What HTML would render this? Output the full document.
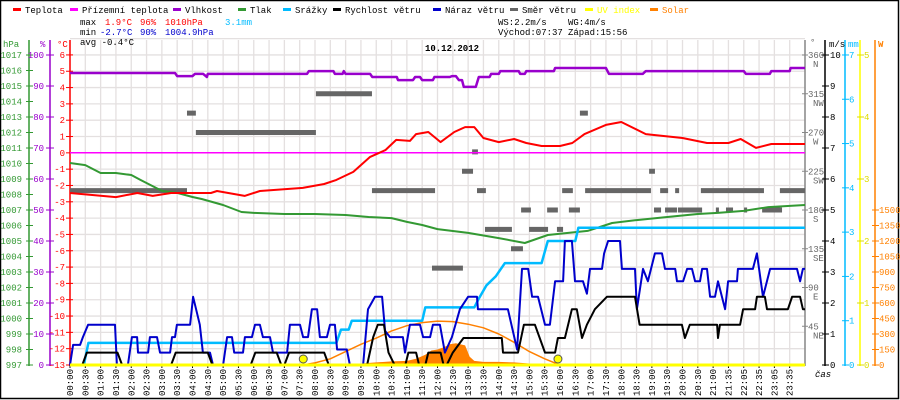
<!DOCTYPE html>
<html><head><meta charset="utf-8"><style>
html,body{margin:0;padding:0;background:#fff;}
#wrap{position:relative;width:900px;height:400px;overflow:hidden;}
svg{position:absolute;left:0;top:0;}
text{font-family:"Liberation Mono","DejaVu Sans Mono",monospace;font-size:9px;}
</style></head><body>
<div id="wrap">
<svg id="chart" width="900" height="400" viewBox="0 0 900 400"></svg>
</div>
<script>
// ---- data ----
const timeLabels=["00:00","00:30","01:00","01:30","02:00","02:30","03:00","03:30","04:00","04:30","05:00","05:30","06:00","06:30","07:00","07:30","08:00","08:30","09:00","09:30","10:00","10:30","11:00","11:30","12:00","12:30","13:00","13:30","14:00","14:30","15:00","15:30","16:00","16:30","17:00","17:30","18:00","18:30","19:00","19:30","20:00","20:30","21:00","21:35","22:05","22:35","23:05","23:35"];
const tempT=[0,1.5,2.2,2.7,3.3,4.6,4.8,5.7,6.2,7.6,8.3,8.7,9.25,9.8,10.3,10.65,11.1,11.3,11.7,12.1,12.55,12.9,13.2,13.5,14.0,14.5,14.9,15.4,16.0,16.4,16.8,17.5,18.0,18.8,20.0,20.8,21.5,21.9,22.4,22.9,24];
const tempV=[-2.46,-2.71,-2.46,-2.64,-2.46,-2.46,-2.34,-2.64,-2.34,-2.15,-1.91,-1.66,-1.17,-0.25,0.17,0.79,0.73,1.15,1.28,0.66,1.28,1.58,1.58,0.91,0.66,0.85,0.60,0.42,0.42,0.60,1.15,1.71,1.89,1.15,0.91,0.60,0.60,0.85,0.30,0.54,0.54];
const apparentT=[0,24];
const apparentV=[0,0];
const humT=[0,3.43,3.5,4.0,4.08,4.35,4.47,4.5,7.74,7.8,8.6,8.65,8.9,8.94,9.0,9.8,9.87,10.67,10.71,11.2,11.27,11.43,11.5,11.85,11.9,12.4,12.47,12.6,12.7,12.8,12.86,13.25,13.35,13.7,13.75,14.0,14.05,14.65,14.7,14.85,14.9,15.8,15.84,17.5,17.6,18.7,18.8,22.0,22.07,22.85,22.9,23.5,23.53,24];
const humV=[94.2,94.2,93.2,93.2,93.9,93.9,92.9,93.9,93.9,94.8,94.8,93.9,93.9,94.8,93.9,93.9,92.9,92.9,91.9,91.9,92.9,92.9,91.9,91.9,92.9,92.9,93.2,93.2,91.9,91.9,89.7,89.7,92.9,92.9,93.9,93.9,94.8,94.8,93.9,93.9,94.8,94.8,95.8,95.8,93.9,93.9,94.8,94.8,93.9,93.9,94.8,94.8,95.8,95.8];
const presT=[0,0.5,1,1.5,2,2.3,3,3.5,4,4.3,5,5.6,6,7,8,9,9.75,10.5,11,11.5,12,13,14,14.85,15.6,16.9,17.7,18.5,19.5,20.5,21.15,22,22.8,24];
const presV=[1010.03,1009.9,1009.39,1009.39,1009.26,1008.94,1008.23,1008.10,1007.84,1007.71,1007.32,1006.87,1006.81,1006.74,1006.74,1006.68,1006.55,1006.48,1006.23,1006.03,1005.77,1005.52,1005.19,1004.87,1005.39,1005.65,1006.16,1006.35,1006.55,1006.74,1006.81,1006.94,1007.19,1007.32];
const rainT=[0,0.45,0.6,8.7,8.85,9.1,9.2,11.5,11.6,13.2,13.35,13.6,13.9,14.2,15.4,15.6,16.5,16.6,24];
const rainV=[0,0,0.5,0.5,0.8,0.8,1.0,1.0,1.3,1.3,1.5,1.8,2.0,2.3,2.3,2.8,2.8,3.1,3.1];
const speedT=[0,0.4,0.55,1.55,1.7,3.3,3.45,4.5,4.65,5.9,6.05,6.75,6.9,7.0,7.15,8.3,8.45,9.7,9.9,10.05,10.25,10.4,10.6,10.95,11.05,11.3,11.4,11.6,11.7,12.1,12.2,12.3,12.5,12.85,14.1,14.14,14.63,14.82,15.18,15.51,15.84,15.93,16.16,16.39,16.55,16.72,16.88,17.14,17.53,18.45,18.6,19.98,20.08,20.24,21.13,21.16,21.22,21.88,21.98,22.37,22.43,22.69,22.76,23.44,23.58,23.84,23.93,24];
const speedV=[0,0,0.4,0.4,0,0,0.4,0.4,0,0,0.4,0.4,0,0,0.4,0.4,0,0,0.9,1.3,1.3,0.4,0,0,0.4,0.4,0,0,0.4,0.4,0,0,0.4,0.87,0.87,0.4,0.4,1.3,1.3,0.4,0.4,0.87,0.87,1.8,1.8,0.87,1.3,1.8,2.2,2.2,1.3,1.3,0.87,1.3,1.3,0.87,1.3,1.3,1.8,1.8,2.2,2.2,1.8,1.8,2.2,2.2,1.8,1.8];
const gustT=[0,0.1,0.33,0.42,0.59,1.47,1.53,1.89,2.02,2.19,2.22,2.55,2.61,2.84,2.94,3.27,3.33,3.43,3.49,3.92,4.02,4.24,4.34,4.57,4.67,5.0,5.13,5.29,5.36,5.65,5.71,5.94,6.04,6.2,6.3,6.53,6.63,7.09,7.18,7.51,7.61,7.77,7.9,8.07,8.16,8.39,8.49,8.65,8.72,9.04,9.14,9.57,9.73,9.96,10.19,10.29,10.45,10.87,10.94,11.1,11.43,11.53,11.76,11.85,12.08,12.24,12.47,12.73,13.0,13.29,13.32,14.3,14.6,14.76,14.96,15.09,15.28,15.51,15.67,15.84,16.1,16.16,16.39,16.49,16.75,16.88,16.98,17.37,17.44,17.57,17.96,18.02,18.45,18.51,18.71,18.87,19.1,19.33,19.43,19.76,19.82,20.02,20.15,20.31,20.41,20.57,20.64,20.8,20.9,21.06,21.16,21.39,21.49,21.78,21.81,22.3,22.43,22.63,22.86,23.74,23.84,23.93,24];
const gustV=[0,0.65,0.65,0.9,1.3,1.3,0,0,0.9,0.9,0.4,0.4,0.9,0.9,0.4,0.4,0.9,0.9,1.3,1.3,2.2,1.3,0.4,0.4,0,0,0.9,0.9,0.4,0.4,0.9,0.9,1.3,1.3,0.9,0.9,0.4,0.4,1.3,1.3,0.9,0.9,1.8,1.8,0.9,0.9,1.3,1.3,0.5,0.5,0,0,1.8,2.2,2.2,1.1,0.9,0.9,0.4,1.3,1.3,0.9,0.9,1.3,1.3,0.4,0.9,1.8,2.2,2.2,1.8,1.8,0.5,3.1,3.1,2.2,2.2,1.3,1.3,2.7,2.7,4.0,4.0,2.7,2.7,2.3,3.1,3.1,3.6,4.0,4.0,3.1,3.1,1.8,3.1,2.7,3.6,3.6,3.1,3.1,2.7,2.7,3.1,3.1,2.7,2.7,3.1,3.1,2.2,2.2,2.7,1.8,2.7,2.7,3.1,3.1,3.6,2.2,3.1,3.1,2.7,3.1,3.1];
const dirStart=[0,3.82,4.11,8.03,9.86,11.82,12.8,13.13,13.29,13.55,14.4,14.73,14.99,15.58,15.9,16.07,16.29,16.65,16.82,18.91,19.07,19.27,19.43,19.76,19.85,20.6,21.09,21.42,22.01,22.6,23.18];
const dirEnd=[3.82,4.11,8.03,9.86,11.92,12.83,13.16,13.32,13.58,14.43,14.79,15.05,15.61,15.93,16.1,16.42,16.65,16.91,18.97,19.1,19.3,19.53,19.82,19.89,20.64,22.66,21.19,21.65,22.11,23.25,24];
const dirV=[202.5,292.5,270,315,202.5,112.5,225,247.5,202.5,157.5,135,180,157.5,180,157.5,202.5,180,292.5,202.5,225,180,202.5,180,202.5,180,202.5,180,180,180,180,202.5];
const uvT=[0,24];
const uvV=[0,0];
const solarModelT=[7.6,8,8.5,9,9.5,10,10.5,11,11.5,12,12.5,13,13.5,14,14.5,15,15.5,16];
const solarModelV=[0,20,60,130,200,260,330,380,410,425,420,395,360,300,220,130,60,0];
const solarT=[8,8.7,9.5,10,10.5,11,11.3,11.6,11.8,12,12.2,12.4,12.6,12.9,13.05,13.2,13.5,14,14.5,15,15.3,15.6];
const solarV=[0,5,15,25,35,40,60,100,140,150,170,200,210,190,80,40,30,30,25,15,5,0];
const sunEvents=[7.617,15.933];
const hpaTicks=[1017,1016,1015,1014,1013,1012,1011,1010,1009,1008,1007,1006,1005,1004,1003,1002,1001,1000,999,998,997];
const humTicks=[100,90,80,70,60,50,40,30,20,10,0];
const tempTicks=[6,5,4,3,2,1,0,-1,-2,-3,-4,-5,-6,-7,-8,-9,-10,-11,-12,-13];
const dirTicks=[360,315,270,225,180,135,90,45];
const dirNames=["N","NW","W","SW","S","SE","E","NE"];
const msTicks=[10,9,8,7,6,5,4,3,2,1,0];
const mmTicks=[7,6,5,4,3,2,1,0];
const uvTicks=[5,4,3,2,1,0];
const wTicks=[1500,1350,1200,1050,900,750,600,450,300,150,0];

// ---- scales ----
const NS="http://www.w3.org/2000/svg";
const svg=document.getElementById('chart');
const xOf=t=>70+t*30.625;
const yT=v=>365-(v+13)*16.32;
const yP=v=>365-(v-997)*15.5;
const yH=v=>365-v*3.1;
const yD=v=>365-v*0.8611;
const yV=v=>365-v*31;
const yR=v=>365-v*44.29;
const yU=v=>365-v*62;
const yS=v=>365-v*0.10333;

function mk(tag,attrs,parent){const e=document.createElementNS(NS,tag);for(const k in attrs)e.setAttribute(k,attrs[k]);(parent||svg).appendChild(e);return e;}
function txt(x,y,s,fill,anchor,extra){const e=mk('text',Object.assign({x:x,y:y,fill:fill,'text-anchor':anchor||'start'},extra||{}));e.textContent=s;return e;}

// border
let el=mk('rect',{x:0.5,y:0.5,width:898,height:398,fill:'none',stroke:'#000','stroke-width':1.5});



// grid
const grid=mk('g',{});


for(let k=0;k<=48;k++){const x=xOf(k*0.5);mk('line',{x1:x,x2:x,y1:40,y2:365,stroke:'#e4e0e0','stroke-width':1.3},grid);}
for(let v=7;v>=-13;v--){const y=yT(v);mk('line',{x1:70,x2:805,y1:y,y2:y,stroke:'#e4e0e0','stroke-width':1.3},grid);}

// legend
const legendItems=[["Teplota","#ff0000",13],["Přízemní teplota","#ff00ff",70],["Vlhkost","#9900cc",173],["Tlak","#339933",238],["Srážky","#00bbff",283],["Rychlost větru","#000000",333],["Náraz větru","#0000cc",433],["Směr větru","#666666",510],["UV index","#ffff00",585],["Solar","#ff8000",650]];
legendItems.forEach((it,i)=>{
  const g=mk('g',{});
  
  
  mk('rect',{x:it[2],y:8,width:8,height:3,fill:it[1]},g);
  const t=txt(it[2]+12,13,it[0],(i>=8?it[1]:'#000'),'start');
  g.appendChild(t);
});

// stats
const stats=[[80,25,"max","#000"],[105,25,"1.9°C","#ff0000"],[140,25,"96%","#ff0000"],[165,25,"1010hPa","#ff0000"],[225,25,"3.1mm","#00bbff"],
[80,35,"min","#000"],[100,35,"-2.7°C","#0000cc"],[140,35,"90%","#0000cc"],[165,35,"1004.9hPa","#0000cc"],
[80,45,"avg -0.4°C","#000"],[498,25,"WS:2.2m/s","#000"],[568,25,"WG:4m/s","#000"],[498,35,"Východ:07:37","#000"],[568,35,"Západ:15:56","#000"]];
stats.forEach((s,i)=>{const t=txt(s[0],s[1],s[2],s[3]);
  
  });
el=txt(452,51,"10.12.2012","#000","middle",{'font-size':'13','font-weight':'bold'});



// left axes
function axisLine(x,color,name){const l=mk('line',{x1:x,x2:x,y1:40,y2:366,stroke:color,'stroke-width':1.5});
  
  }
axisLine(29,'#339933','pressure-axis');
axisLine(50,'#9900cc','humidity-axis');
axisLine(70,'#ff0000','temperature-axis');
el=txt(3,47,"hPa","#339933");
el=txt(40,47,"%","#9900cc");
el=txt(57,47,"°C","#ff0000");
hpaTicks.forEach(v=>{const y=yP(v);mk('line',{x1:26,x2:33,y1:y,y2:y,stroke:'#339933'});txt(22,y+3,String(v),'#339933','end');});
humTicks.forEach(v=>{const y=yH(v);mk('line',{x1:46,x2:54,y1:y,y2:y,stroke:'#9900cc'});txt(44,y+3,String(v),'#9900cc','end');});
tempTicks.forEach(v=>{const y=yT(v);mk('line',{x1:66,x2:73,y1:y,y2:y,stroke:'#ff0000'});txt(65,y+3,String(v).replace('-','−').replace('−','-'),'#ff0000','end');});

// right axes
axisLine(805,'#888888','direction-axis');
axisLine(825,'#000000','wind-speed-axis');
axisLine(845,'#00bbff','rain-axis');
axisLine(860,'#ffff00','uv-axis');
axisLine(875,'#ff8000','solar-axis');
txt(810,45,"°","#666");txt(829,47,"m/s","#000");txt(848,47,"mm","#00bbff");txt(878,47,"W","#ff8000",'start',{'font-weight':'bold'});
dirTicks.forEach((v,i)=>{const y=yD(v);mk('line',{x1:802,x2:808,y1:y,y2:y,stroke:'#888'});txt(808,y+3,String(v),'#666');txt(813,y+12,dirNames[i],'#666');});
msTicks.forEach(v=>{const y=yV(v);mk('line',{x1:822,x2:829,y1:y,y2:y,stroke:'#000'});txt(830,y+3,String(v),'#000');});
mmTicks.forEach(v=>{const y=yR(v);mk('line',{x1:842,x2:849,y1:y,y2:y,stroke:'#00bbff'});txt(849,y+3,String(v),'#00bbff');});
uvTicks.forEach(v=>{const y=yU(v);mk('line',{x1:857,x2:864,y1:y,y2:y,stroke:'#dddd00'});txt(864,y+3,String(v),'#dddd00');});
wTicks.forEach(v=>{const y=yS(v);mk('line',{x1:872,x2:879,y1:y,y2:y,stroke:'#ff8000'});txt(879,y+3,String(v),'#ff8000');});
el=txt(815,377,"čas","#000",'start',{'font-style':'italic'});



// x labels
timeLabels.forEach((s,k)=>{const x=xOf(k*0.5);
  mk('line',{x1:x,x2:x,y1:365,y2:368,stroke:'#000'});
  const t=txt(0,0,s,'#000','end',{transform:'translate('+(x+3)+',369) rotate(-90)'});
  
  });

// series helpers
function pts(T,V,fy){return T.map((t,i)=>xOf(t).toFixed(1)+','+fy(V[i]).toFixed(1)).join(' ');}
function series(T,V,fy,color,w,name){const p=mk('polyline',{points:pts(T,V,fy),fill:'none',stroke:color,'stroke-width':w,'stroke-linejoin':'round'});
  
  return p;}

// solar area
const area=mk('polygon',{points:xOf(solarT[0])+','+yS(0)+' '+pts(solarT,solarV,yS)+' '+xOf(solarT[solarT.length-1])+','+yS(0),fill:'#ff8000'});



// wind direction bars
dirV.forEach((v,i)=>{const y=yD(v);const r=mk('rect',{x:xOf(dirStart[i]),y:y-2.5,width:xOf(dirEnd[i])-xOf(dirStart[i]),height:5,fill:'#666666'});
  
  });

series(presT,presV,yP,'#339933',2,'pressure-line');
series(apparentT,apparentV,yT,'#ff00ff',1.5,'apparent-temperature-line');
series(tempT,tempV,yT,'#ff0000',2,'temperature-line');
series(humT,humV,yH,'#9900cc',2.5,'humidity-line');
series(rainT,rainV,yR,'#00bbff',2.5,'rain-line');
series(solarModelT,solarModelV,yS,'#ff8000',1.5,'solar-model-line');
series(gustT,gustV,yV,'#0000cc',2,'wind-gust-line');
series(speedT,speedV,yV,'#000000',2,'wind-speed-line');
series(uvT,uvV,yU,'#ffff00',3,'uv-line');

sunEvents.forEach((t,i)=>{const c=mk('circle',{cx:xOf(t),cy:359,r:4,fill:'#ffff00',stroke:'#555','stroke-width':1});
  
  });
</script>
</body></html>
